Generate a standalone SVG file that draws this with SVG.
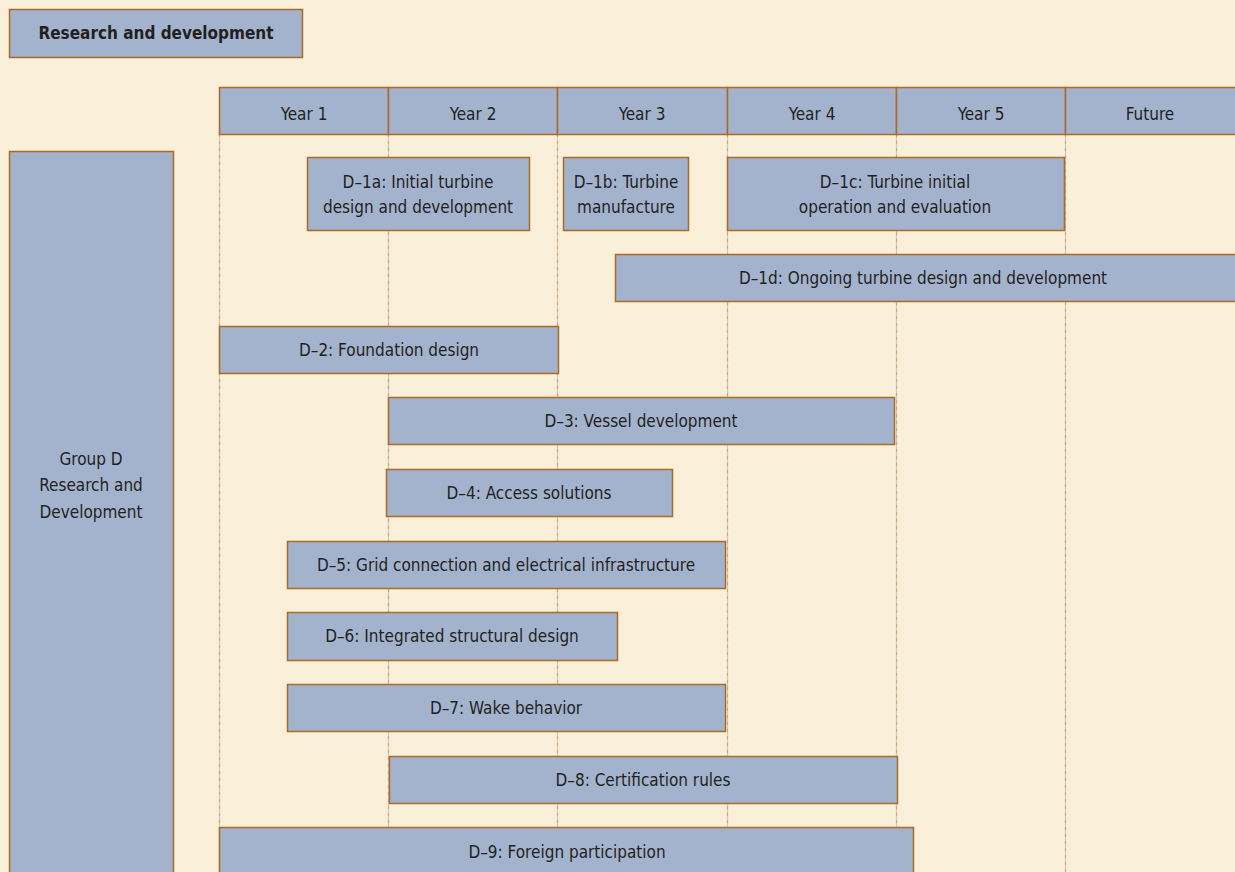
<svg xmlns="http://www.w3.org/2000/svg" width="1235" height="872" viewBox="0 0 1235 872">
<style>
.bg{fill:#FAEFD9}
.box{fill:#A3B3CD;stroke:#AD6A24;stroke-width:1.5}
.t{font-family:"DejaVu Sans Condensed","Liberation Sans",sans-serif;font-size:17px;fill:#231F20;text-anchor:middle;dominant-baseline:central}
.tb{font-weight:bold;font-size:17px}
.g1{stroke:#C9C9C9;stroke-width:1.2}
.g2{stroke:#DDA46A;stroke-width:1.2;stroke-dasharray:3 4}
</style>
<rect class="bg" x="0" y="0" width="1235" height="872"/>
<g id="grid">
<g class="g1"><line x1="219.5" y1="134" x2="219.5" y2="872"/><line x1="388.5" y1="134" x2="388.5" y2="872"/><line x1="557.5" y1="134" x2="557.5" y2="872"/><line x1="727.5" y1="134" x2="727.5" y2="872"/><line x1="896.5" y1="134" x2="896.5" y2="872"/><line x1="1065.5" y1="134" x2="1065.5" y2="872"/></g>
<g class="g2"><line x1="219.5" y1="134" x2="219.5" y2="872"/><line x1="388.5" y1="134" x2="388.5" y2="872"/><line x1="557.5" y1="134" x2="557.5" y2="872"/><line x1="727.5" y1="134" x2="727.5" y2="872"/><line x1="896.5" y1="134" x2="896.5" y2="872"/><line x1="1065.5" y1="134" x2="1065.5" y2="872"/></g>
</g>
<g id="title"><rect class="box" x="9.5" y="9.5" width="293" height="48"/><text class="t tb" x="156" y="33">Research and development</text></g>
<g id="header">
<rect class="box" x="219.5" y="87.5" width="169" height="47"/><text class="t" x="304" y="114">Year 1</text>
<rect class="box" x="388.5" y="87.5" width="169" height="47"/><text class="t" x="473" y="114">Year 2</text>
<rect class="box" x="557.5" y="87.5" width="170" height="47"/><text class="t" x="642" y="114">Year 3</text>
<rect class="box" x="727.5" y="87.5" width="169" height="47"/><text class="t" x="812" y="114">Year 4</text>
<rect class="box" x="896.5" y="87.5" width="169" height="47"/><text class="t" x="981" y="114">Year 5</text>
<rect class="box" x="1065.5" y="87.5" width="175" height="47"/><text class="t" x="1150" y="114">Future</text>
</g>
<g id="groupD"><rect class="box" x="9.5" y="151.5" width="164" height="730"/><text class="t" x="91" y="459">Group D</text><text class="t" x="91" y="485">Research and</text><text class="t" x="91" y="512">Development</text></g>
<g id="D1a"><rect class="box" x="307.5" y="157.5" width="222" height="73"/><text class="t" x="418" y="182">D–1a: Initial turbine</text><text class="t" x="418" y="207">design and development</text></g>
<g id="D1b"><rect class="box" x="563.5" y="157.5" width="125" height="73"/><text class="t" x="626" y="182">D–1b: Turbine</text><text class="t" x="626" y="207">manufacture</text></g>
<g id="D1c"><rect class="box" x="727.5" y="157.5" width="337" height="73"/><text class="t" x="895" y="182">D–1c: Turbine initial</text><text class="t" x="895" y="207">operation and evaluation</text></g>
<g id="D1d"><rect class="box" x="615.5" y="254.5" width="630" height="47"/><text class="t" x="923" y="278">D–1d: Ongoing turbine design and development</text></g>
<g id="D2"><rect class="box" x="219.5" y="326.5" width="339" height="47"/><text class="t" x="389" y="350">D–2: Foundation design</text></g>
<g id="D3"><rect class="box" x="388.5" y="397.5" width="506" height="47"/><text class="t" x="641" y="421">D–3: Vessel development</text></g>
<g id="D4"><rect class="box" x="386.5" y="469.5" width="286" height="47"/><text class="t" x="529" y="493">D–4: Access solutions</text></g>
<g id="D5"><rect class="box" x="287.5" y="541.5" width="438" height="47"/><text class="t" x="506" y="565">D–5: Grid connection and electrical infrastructure</text></g>
<g id="D6"><rect class="box" x="287.5" y="612.5" width="330" height="48"/><text class="t" x="452" y="636">D–6: Integrated structural design</text></g>
<g id="D7"><rect class="box" x="287.5" y="684.5" width="438" height="47"/><text class="t" x="506" y="708">D–7: Wake behavior</text></g>
<g id="D8"><rect class="box" x="389.5" y="756.5" width="508" height="47"/><text class="t" x="643" y="780">D–8: Certification rules</text></g>
<g id="D9"><rect class="box" x="219.5" y="827.5" width="694" height="60"/><text class="t" x="567" y="852">D–9: Foreign participation</text></g>
</svg>
